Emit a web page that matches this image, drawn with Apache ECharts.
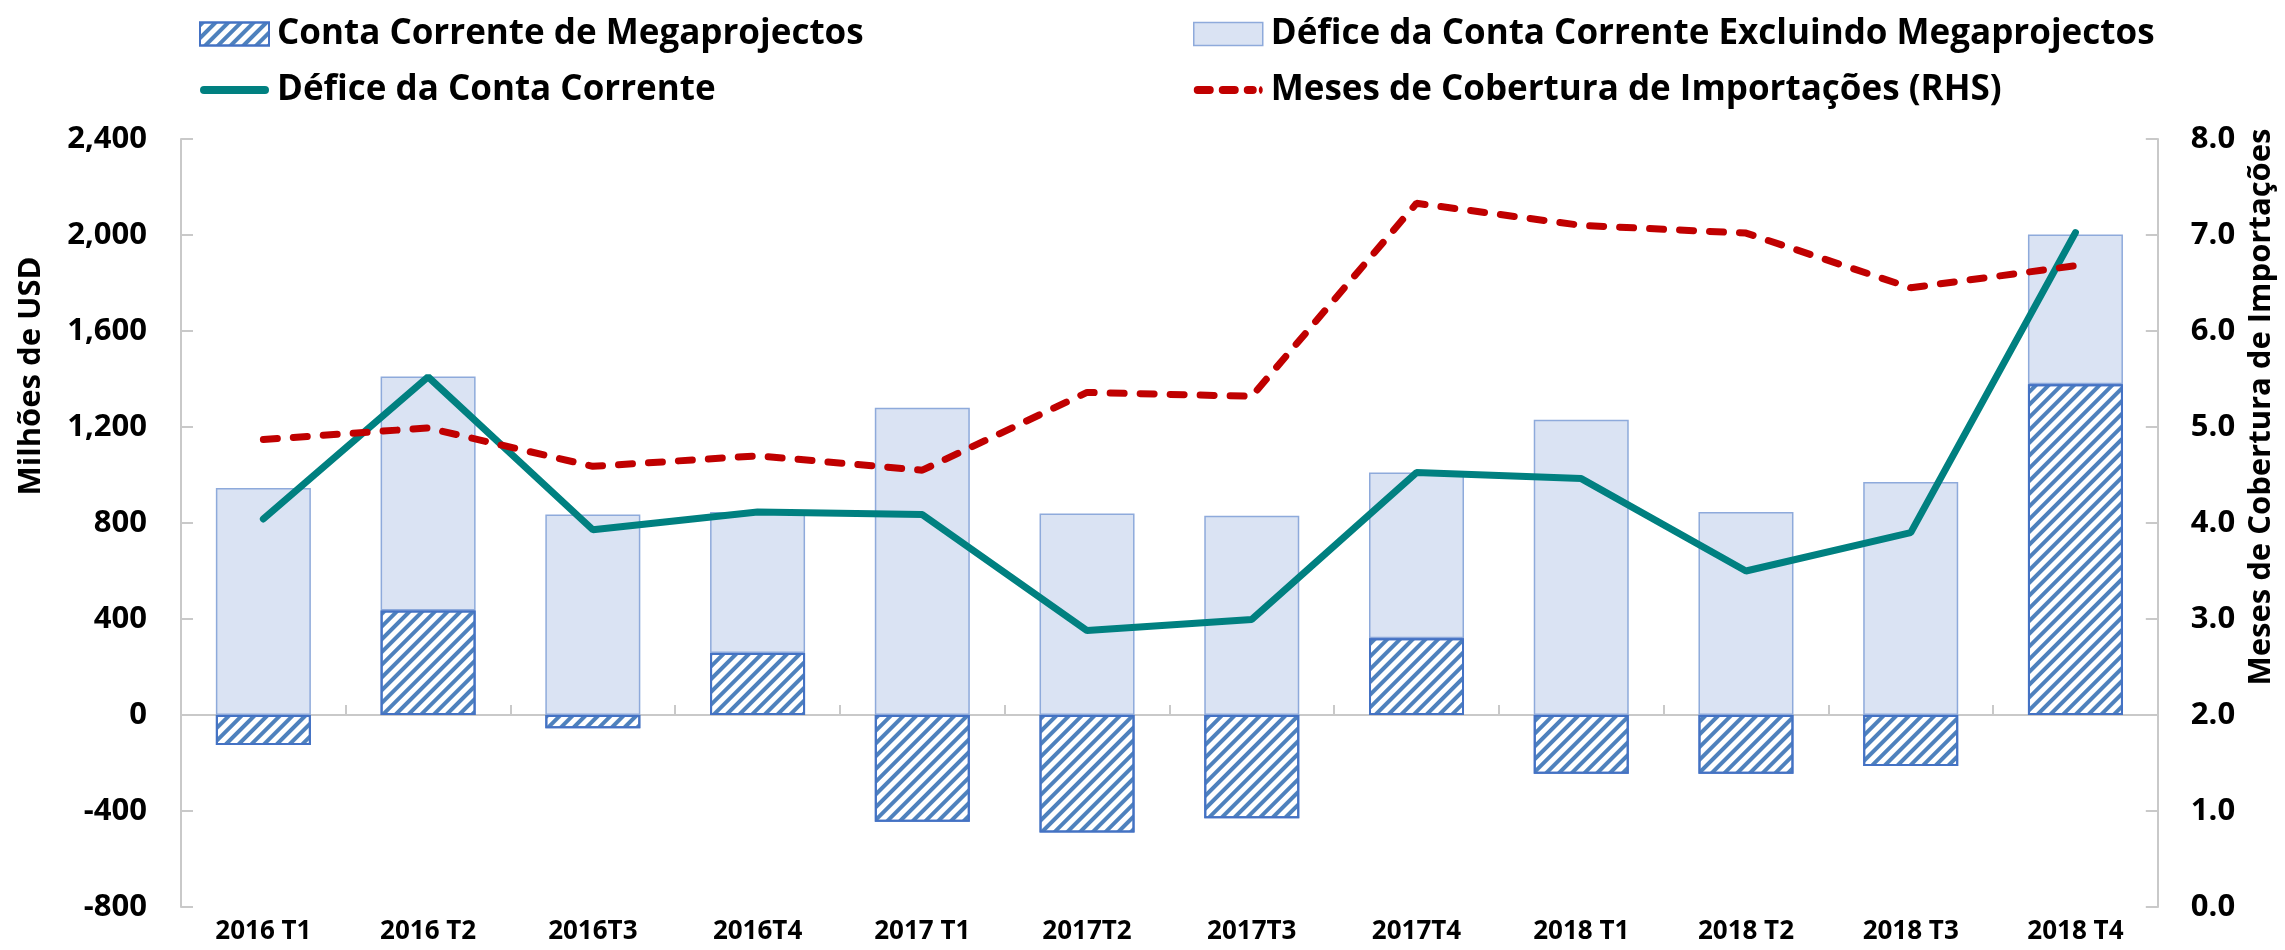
<!DOCTYPE html>
<html>
<head>
<meta charset="utf-8">
<script src="https://cdn.jsdelivr.net/npm/echarts@6/dist/echarts.min.js"></script>
<style>
  html, body { margin: 0; padding: 0; background: #ffffff; }
  #chart { width: 2285px; height: 950px; }
</style>
</head>
<body>
<div id="chart"></div>
<script>
// Quarters on the category axis
const quarters = ['2016 T1', '2016 T2', '2016T3', '2016T4', '2017 T1', '2017T2', '2017T3', '2017T4', '2018 T1', '2018 T2', '2018 T3', '2018 T4'];
// Megaproject current account (USD millions)
const megaprojects = [-125, 435, -55, 258, -445, -490, -430, 320, -245, -245, -213, 1378];
// Current account deficit excluding megaprojects (USD millions)
const deficitExMega = [946, 975, 835, 588, 1280, 840, 830, 690, 1230, 846, 971, 624];
// Current account deficit (USD millions)
const deficitTotal = [817, 1409, 772, 846, 835, 352, 398, 1010, 985, 600, 760, 2010];
// Months of import cover (right-hand scale)
const importCover = [4.87, 4.99, 4.59, 4.70, 4.55, 5.36, 5.32, 7.33, 7.10, 7.02, 6.45, 6.68];

const NAME_MEGA = 'Conta Corrente de Megaprojectos';
const NAME_EXCL = 'Défice da Conta Corrente Excluindo Megaprojectos';
const NAME_TOTAL = 'Défice da Conta Corrente';
const NAME_COVER = 'Meses de Cobertura de Importações (RHS)';

const FONT = '"Open Sans", "Noto Sans", sans-serif';
const AXIS_GREY = '#c9c9c9';

// Rounded horizontal segment (pill) from x0 to x1, 8px thick, as SVG path commands
function pill(x0, x1) {
  const r = 4;
  return 'M' + (x0 + r) + ',0 L' + (x1 - r) + ',0 A4,4 0 0 1 ' + (x1 - r) + ',8 L' + (x0 + r) + ',8 A4,4 0 0 1 ' + (x0 + r) + ',0 Z ';
}
const solidLineIcon = 'path://' + pill(0, 69);
const dashedLineIcon = 'path://' + pill(0, 20) + pill(25, 45) + pill(50, 63) + pill(65, 69);

const hatch = {
  symbol: 'rect',
  symbolSize: 1,
  dashArrayX: [1, 0],
  dashArrayY: [4, 5],
  rotation: -Math.PI / 4,
  color: '#4e81bd'
};

const megaStyle = { color: '#ffffff', borderColor: '#4472c4', borderWidth: 2, decal: hatch };
const exclStyle = { color: '#dae3f3', borderColor: '#8eaadb', borderWidth: 1.5 };
const totalLine = { color: '#008080', width: 7, cap: 'round' };
const coverLine = { color: '#c00000', width: 7, type: [14, 16], cap: 'round' };

const legendText = { fontFamily: FONT, fontWeight: 'bold', fontSize: 35, color: '#000', lineHeight: 40, padding: [0, 0, 0, 3] };

const chart = echarts.init(document.getElementById('chart'), null, { renderer: 'canvas' });

chart.setOption({
  animation: false,
  backgroundColor: '#ffffff',
  textStyle: { fontFamily: FONT },
  legend: [
    {
      left: 194, top: 9, orient: 'vertical', itemGap: 16,
      itemWidth: 69, itemHeight: 23,
      textStyle: legendText,
      data: [
        { name: NAME_MEGA, icon: 'rect', itemStyle: megaStyle },
        { name: NAME_TOTAL, icon: solidLineIcon, itemStyle: { color: '#008080', borderWidth: 0 } }
      ]
    },
    {
      left: 1188, top: 9, orient: 'vertical', itemGap: 16,
      itemWidth: 69, itemHeight: 23,
      textStyle: legendText,
      data: [
        { name: NAME_EXCL, icon: 'rect', itemStyle: exclStyle },
        { name: NAME_COVER, icon: dashedLineIcon, itemStyle: { color: '#c00000', borderWidth: 0 } }
      ]
    }
  ],
  grid: { left: 181, right: 121, top: 139, bottom: 43, containLabel: false },
  xAxis: [
    {
      type: 'category', data: quarters, position: 'bottom',
      axisLine: { show: false }, axisTick: { show: false },
      axisLabel: { fontFamily: FONT, fontWeight: 'bold', fontSize: 26, color: '#000', margin: 12 }
    },
    {
      type: 'category', data: quarters, position: 'bottom',
      axisLine: { show: true, onZero: true, onZeroAxisIndex: 0, lineStyle: { color: AXIS_GREY, width: 2 } },
      axisTick: { show: true, inside: true, length: 10, lineStyle: { color: AXIS_GREY, width: 2 } },
      axisLabel: { show: false }
    }
  ],
  yAxis: [
    {
      type: 'value', min: -800, max: 2400, interval: 400, position: 'left',
      name: 'Milhões de USD', nameLocation: 'middle', nameGap: 134,
      nameTextStyle: { fontFamily: FONT, fontWeight: 'bold', fontSize: 31, color: '#000', padding: [0, 0, 0, 294] },
      axisLine: { show: true, lineStyle: { color: AXIS_GREY, width: 2 } },
      axisTick: { show: true, inside: true, length: 12, lineStyle: { color: AXIS_GREY, width: 2 } },
      splitLine: { show: false },
      axisLabel: {
        fontFamily: FONT, fontWeight: 'bold', fontSize: 31, color: '#000', margin: 34,
        formatter: v => v.toLocaleString('en-US')
      }
    },
    {
      type: 'value', min: 0, max: 8, interval: 1, position: 'right',
      name: 'Meses de Cobertura de Importações', nameLocation: 'middle', nameGap: 87,
      nameTextStyle: { fontFamily: FONT, fontWeight: 'bold', fontSize: 31, color: '#000', padding: [0, 0, 0, 232] },
      axisLine: { show: true, lineStyle: { color: AXIS_GREY, width: 2 } },
      axisTick: { show: true, inside: true, length: 12, lineStyle: { color: AXIS_GREY, width: 2 } },
      splitLine: { show: false },
      axisLabel: {
        fontFamily: FONT, fontWeight: 'bold', fontSize: 31, color: '#000', margin: 33,
        formatter: v => v.toFixed(1)
      }
    }
  ],
  series: [
    {
      name: NAME_MEGA, type: 'bar', stack: 'ca', xAxisIndex: 0, yAxisIndex: 0,
      barWidth: 95, data: megaprojects, itemStyle: megaStyle, z: 3
    },
    {
      name: NAME_EXCL, type: 'bar', stack: 'ca', xAxisIndex: 0, yAxisIndex: 0,
      barWidth: 95, data: deficitExMega, itemStyle: exclStyle, z: 2
    },
    {
      name: NAME_TOTAL, type: 'line', xAxisIndex: 0, yAxisIndex: 0,
      data: deficitTotal, symbol: 'none', lineStyle: totalLine, itemStyle: { color: '#008080' }, z: 5
    },
    {
      name: NAME_COVER, type: 'line', xAxisIndex: 0, yAxisIndex: 1,
      data: importCover, symbol: 'none', lineStyle: coverLine, itemStyle: { color: '#c00000' }, z: 6
    }
  ]
});
</script>
</body>
</html>
